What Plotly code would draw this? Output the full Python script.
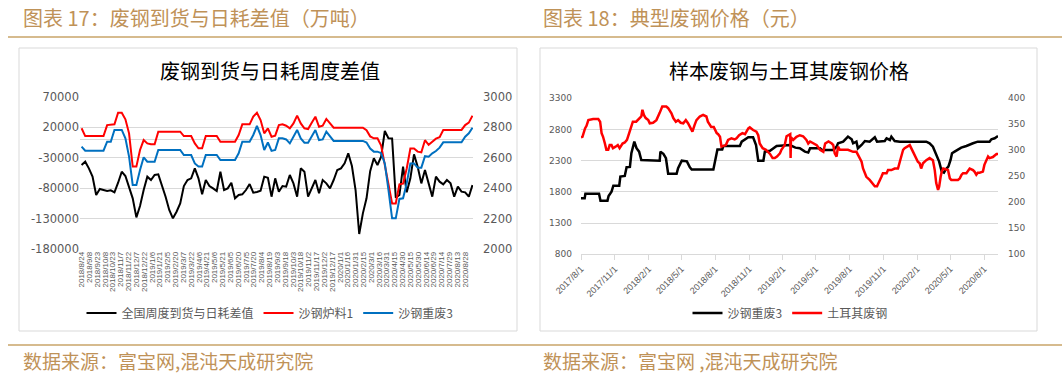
import pandas as pd
import plotly.graph_objects as go

# ---------------- Left chart data (weekly, from 2018/8/24) ----------------
left_start = "2018-08-24"
arrival_minus_use = [
    -41900, -36500, -47400, -61000, -91000, -81200, -82900, -84500, -83400, -86700,
    -70900, -52900, -60000, -80200, -96500, -127700, -109000, -82900, -61000, -66500,
    -58300, -57200, -74700, -93800, -115600, -129300, -118400, -104700, -76300, -66500,
    -63800, -47400, -63800, -90000, -66500, -76300, -80200, -84500, -52900, -82900,
    -80200, -70900, -96500, -91000, -90000, -82900, -73100, -87200, -86100, -84000,
    -61000, -62700, -93800, -63800, -85600, -76300, -77400, -58300, -72000, -93800,
    -47400, -52800, -93800, -80200, -66500, -88300, -66500, -72000, -80200, -66500,
    -50100, -47400, -39200, -22800, -43600, -82900, -155000, -121100, -96500, -52000,
    -31000, -41900, -28300, 13800, 2000, 1700, -95400, -91100, -44700, -86700,
    -63800, -24500, -44700, -72000, -50100, -72000, -93800, -61000, -69200, -73600,
    -66500, -72000, -93800, -77400, -85600, -86700, -93800, -74700,
]
shagang_charge1 = [
    2793, 2742, 2742, 2742, 2742, 2742, 2742, 2814, 2819, 2819,
    2895, 2895, 2852, 2760, 2542, 2542, 2651, 2716, 2694, 2688,
    2688, 2771, 2771, 2771, 2771, 2771, 2771, 2771, 2742, 2742,
    2742, 2694, 2662, 2662, 2742, 2742, 2742, 2742, 2705, 2705,
    2705, 2705, 2705, 2749, 2819, 2819, 2819, 2869, 2895, 2847,
    2760, 2793, 2738, 2745, 2814, 2819, 2810, 2793, 2825, 2876,
    2825, 2793, 2788, 2830, 2869, 2803, 2810, 2854, 2825, 2797,
    2797, 2797, 2797, 2797, 2797, 2797, 2797, 2797, 2780, 2740,
    2727, 2727, 2680, 2560, 2420, 2300, 2300, 2426, 2430, 2530,
    2660, 2660, 2640, 2635, 2715, 2685, 2705, 2725, 2735, 2782,
    2782, 2782, 2782, 2782, 2782, 2814, 2830, 2876,
]
shagang_heavy3 = [
    2673, 2646, 2646, 2646, 2646, 2646, 2646, 2705, 2705, 2782,
    2782, 2782, 2727, 2607, 2422, 2422, 2520, 2603, 2574, 2574,
    2574, 2651, 2651, 2651, 2651, 2651, 2651, 2651, 2618, 2618,
    2618, 2563, 2542, 2542, 2618, 2618, 2618, 2618, 2585, 2585,
    2585, 2585, 2585, 2629, 2705, 2705, 2705, 2749, 2808, 2749,
    2651, 2700, 2645, 2651, 2727, 2727, 2720, 2694, 2742, 2782,
    2727, 2699, 2699, 2740, 2782, 2716, 2720, 2771, 2742, 2710,
    2710, 2710, 2710, 2710, 2710, 2710, 2710, 2710, 2700, 2660,
    2640, 2640, 2630, 2563, 2390, 2203, 2203, 2330, 2334, 2432,
    2563, 2563, 2535, 2535, 2610, 2607, 2629, 2644, 2666, 2701,
    2701, 2701, 2701, 2701, 2701, 2738, 2760, 2797,
]
left_dates = pd.date_range(left_start, periods=len(arrival_minus_use), freq="7D")
left_tick_dates = pd.date_range("2018-08-24", "2020-08-28", freq="15D")
left_tick_text = [f"{d.year}/{d.month}/{d.day}" for d in left_tick_dates]
left_y_ticks = [-180000, -130000, -80000, -30000, 20000, 70000]
left_y2_ticks = [2000, 2200, 2400, 2600, 2800, 3000]

# ---------------- Right chart data ----------------
heavy3_dates = [
    "2017-08-01", "2017-08-11", "2017-08-13", "2017-09-19", "2017-09-23", "2017-10-12",
    "2017-10-15", "2017-10-23", "2017-10-28", "2017-11-13", "2017-11-16", "2017-11-28",
    "2017-12-03", "2017-12-12", "2017-12-16", "2017-12-24", "2017-12-30", "2018-01-06",
    "2018-01-12", "2018-03-03", "2018-03-05", "2018-03-13", "2018-03-20", "2018-03-26",
    "2018-04-18", "2018-04-22", "2018-05-02", "2018-05-16", "2018-05-24", "2018-05-29",
    "2018-07-27", "2018-07-31", "2018-08-07", "2018-08-20", "2018-08-23", "2018-10-07",
    "2018-10-12", "2018-10-30", "2018-11-12", "2018-11-20", "2018-11-26", "2018-12-10",
    "2018-12-14", "2018-12-28", "2019-01-15", "2019-02-20", "2019-03-07", "2019-03-19",
    "2019-04-02", "2019-04-11", "2019-04-16", "2019-05-13", "2019-05-18", "2019-06-18",
    "2019-06-27", "2019-07-01", "2019-07-15", "2019-07-28", "2019-08-07", "2019-08-11",
    "2019-08-20", "2019-08-24", "2019-09-03", "2019-09-12", "2019-09-25", "2019-10-09",
    "2019-10-15", "2019-11-05", "2019-11-10", "2019-11-19", "2019-11-23", "2019-12-02",
    "2019-12-16", "2020-02-26", "2020-03-06", "2020-03-15", "2020-03-24", "2020-04-01",
    "2020-04-08", "2020-04-14", "2020-04-19", "2020-04-26", "2020-05-02", "2020-05-06",
    "2020-05-13", "2020-05-22", "2020-05-31", "2020-06-14", "2020-06-23", "2020-07-02",
    "2020-07-15", "2020-08-16", "2020-08-21", "2020-08-30", "2020-09-08",
]
heavy3_prices = [
    1700, 1700, 1770, 1770, 1660, 1660,
    1735, 1805, 1900, 1900, 2045, 2055,
    2195, 2200, 2420, 2605, 2500, 2445,
    2310, 2300, 2445, 2410, 2340, 2090,
    2090, 2180, 2300, 2290, 2195, 2160,
    2160, 2290, 2480, 2480, 2535, 2535,
    2605, 2675, 2675, 2550, 2300, 2300,
    2445, 2460, 2535, 2550, 2509, 2499,
    2445, 2430, 2499, 2499, 2472, 2472,
    2525, 2579, 2605, 2686, 2643, 2579,
    2605, 2499, 2552, 2616, 2605, 2675,
    2605, 2616, 2659, 2632, 2686, 2616,
    2605, 2605, 2579, 2525, 2392, 2285,
    2125, 2109, 2162, 2205, 2312, 2419,
    2445, 2472, 2509, 2536, 2552, 2579,
    2605, 2605, 2643, 2659, 2696,
]
turkey_dates = [
    "2017-08-01", "2017-08-05", "2017-08-12", "2017-08-16", "2017-08-21", "2017-09-03",
    "2017-09-17", "2017-09-22", "2017-09-26", "2017-09-30", "2017-10-05", "2017-10-09",
    "2017-10-14", "2017-10-18", "2017-10-23", "2017-10-27", "2017-11-03", "2017-11-09",
    "2017-11-14", "2017-11-22", "2017-11-28", "2017-12-04", "2017-12-10", "2017-12-16",
    "2017-12-20", "2017-12-29", "2018-01-06", "2018-01-12", "2018-01-15", "2018-01-19",
    "2018-01-24", "2018-01-31", "2018-02-04", "2018-02-13", "2018-02-22", "2018-02-27",
    "2018-03-03", "2018-03-10", "2018-03-21", "2018-03-26", "2018-04-04", "2018-04-09",
    "2018-04-16", "2018-04-22", "2018-04-29", "2018-05-06", "2018-05-13", "2018-05-19",
    "2018-05-24", "2018-05-31", "2018-06-06", "2018-06-11", "2018-06-20", "2018-06-29",
    "2018-07-08", "2018-07-12", "2018-07-21", "2018-07-28", "2018-08-05", "2018-08-09",
    "2018-08-14", "2018-08-18", "2018-08-30", "2018-09-05", "2018-09-14", "2018-09-23",
    "2018-09-28", "2018-10-05", "2018-10-14", "2018-10-21", "2018-10-25", "2018-10-30",
    "2018-11-03", "2018-11-12", "2018-11-21", "2018-11-26", "2018-11-30", "2018-12-08",
    "2018-12-17", "2018-12-28", "2019-01-04", "2019-01-10", "2019-01-16", "2019-01-24",
    "2019-01-28", "2019-02-06", "2019-02-11", "2019-02-18", "2019-02-21", "2019-02-22",
    "2019-02-23", "2019-03-01", "2019-03-10", "2019-03-19", "2019-03-28", "2019-04-06",
    "2019-04-11", "2019-04-16", "2019-04-25", "2019-05-04", "2019-05-13", "2019-05-22",
    "2019-05-27", "2019-06-05", "2019-06-14", "2019-06-18", "2019-06-22", "2019-06-27",
    "2019-07-01", "2019-07-06", "2019-07-28", "2019-08-11", "2019-08-20", "2019-08-24",
    "2019-09-03", "2019-09-07", "2019-09-16", "2019-09-25", "2019-10-04", "2019-10-09",
    "2019-10-15", "2019-10-22", "2019-10-27", "2019-10-31", "2019-11-10", "2019-11-14",
    "2019-11-23", "2019-12-02", "2019-12-11", "2019-12-16", "2019-12-25", "2019-12-29",
    "2020-01-07", "2020-01-12", "2020-01-21", "2020-01-30", "2020-02-03", "2020-02-08",
    "2020-02-12", "2020-02-17", "2020-02-21", "2020-02-26", "2020-03-06", "2020-03-15",
    "2020-03-20", "2020-03-24", "2020-03-29", "2020-04-01", "2020-04-05", "2020-04-08",
    "2020-04-12", "2020-04-16", "2020-04-25", "2020-04-30", "2020-05-04", "2020-05-22",
    "2020-05-27", "2020-06-01", "2020-06-05", "2020-06-14", "2020-06-23", "2020-07-02",
    "2020-07-06", "2020-07-11", "2020-07-15", "2020-07-20", "2020-07-29", "2020-08-02",
    "2020-08-07", "2020-08-12", "2020-08-16", "2020-08-25", "2020-09-04", "2020-09-08",
]
turkey_prices = [
    325, 326, 342, 347, 358, 360,
    360, 355, 333, 326, 313, 301,
    301, 310, 310, 304, 307, 310,
    304, 313, 315, 320, 333, 345,
    355, 355, 360, 365, 378, 368,
    362, 358, 352, 353, 358, 368,
    372, 384, 384, 381, 371, 362,
    355, 358, 353, 352, 358, 352,
    345, 336, 349, 358, 365, 368,
    365, 355, 345, 345, 333, 331,
    326, 307, 310, 320, 323, 321,
    323, 329, 333, 331, 336, 342,
    344, 339, 336, 329, 313, 304,
    301, 293, 285, 285, 288, 294,
    301, 310, 327, 331, 331, 285,
    325, 320, 326, 329, 327, 320,
    313, 317, 313, 310, 301, 297,
    313, 317, 313, 310, 294, 288,
    307, 301, 301, 297, 297, 291,
    278, 265, 249, 243, 236, 231,
    231, 240, 249, 256, 256, 262,
    262, 265, 265, 278, 301, 304,
    307, 310, 297, 285, 278, 275,
    265, 275, 278, 281, 285, 281,
    262, 237, 224, 230, 249, 259,
    265, 264, 262, 246, 243, 243,
    246, 253, 256, 256, 265, 262,
    259, 253, 257, 257, 259, 272,
    281, 288, 285, 287, 293, 293,
]
right_tick_dates = [
    "2017-08-01", "2017-11-01", "2018-02-01", "2018-05-01", "2018-08-01", "2018-11-01",
    "2019-02-01", "2019-05-01", "2019-08-01", "2019-11-01", "2020-02-01", "2020-05-01",
    "2020-08-01",
]
right_tick_text = [
    "2017/8/1", "2017/11/1", "2018/2/1", "2018/5/1", "2018/8/1", "2018/11/1",
    "2019/2/1", "2019/5/1", "2019/8/1", "2019/11/1", "2020/2/1", "2020/5/1",
    "2020/8/1",
]
right_y_ticks = [800, 1300, 1800, 2300, 2800, 3300]
right_y2_ticks = [100, 150, 200, 250, 300, 350, 400]

# ---------------- Layout helpers ----------------
W, H = 1062, 377


def fx(px):
    return px / W


def fy(py):
    return 1 - py / H


GOLD = "#BF9258"
GOLD_LINE = "#C9A468"
GRID = "#D9D9D9"
TICK = "#595959"
CJK = "Noto Sans CJK SC"

fig = go.Figure()

fig.add_trace(go.Scatter(x=left_dates, y=arrival_minus_use, mode="lines", name="全国周度到货与日耗差值",
                         line=dict(color="#000000", width=2), xaxis="x", yaxis="y", legend="legend"))
fig.add_trace(go.Scatter(x=left_dates, y=shagang_charge1, mode="lines", name="沙钢炉料1",
                         line=dict(color="#FF0000", width=2), xaxis="x", yaxis="y2", legend="legend"))
fig.add_trace(go.Scatter(x=left_dates, y=shagang_heavy3, mode="lines", name="沙钢重废3",
                         line=dict(color="#0070C0", width=2), xaxis="x", yaxis="y2", legend="legend"))

fig.add_trace(go.Scatter(x=pd.to_datetime(heavy3_dates), y=heavy3_prices, mode="lines", name="沙钢重废3",
                         line=dict(color="#000000", width=2.5), xaxis="x2", yaxis="y3", legend="legend2"))
fig.add_trace(go.Scatter(x=pd.to_datetime(turkey_dates), y=turkey_prices, mode="lines", name="土耳其废钢",
                         line=dict(color="#FF0000", width=2.5), xaxis="x2", yaxis="y4", legend="legend2"))

tick_font_l = dict(family="DejaVu Sans", size=11.5, color=TICK)
tick_font_r = dict(family="DejaVu Sans", size=9, color=TICK)

fig.update_layout(
    width=W, height=H, template="none",
    paper_bgcolor="white", plot_bgcolor="rgba(0,0,0,0)",
    margin=dict(l=0, r=0, t=0, b=0),
    xaxis=dict(domain=[fx(80), fx(473)], anchor="y", type="date",
               range=["2018-08-21", "2020-09-12"], tickmode="array",
               tickvals=list(left_tick_dates), ticktext=left_tick_text, tickangle=-90,
               tickfont=dict(family="Liberation Sans", size=8, color=TICK),
               showgrid=False, zeroline=False, showline=False, ticks="", automargin=False),
    yaxis=dict(domain=[fy(249.3), fy(96.7)], anchor="x", range=[-180000, 70000],
               tickmode="array", tickvals=left_y_ticks, ticktext=[str(v) for v in left_y_ticks],
               showgrid=True, gridcolor=GRID, gridwidth=1, zeroline=True, zerolinecolor=GRID,
               zerolinewidth=1, showline=False, ticks="", tickfont=tick_font_l, automargin=False),
    yaxis2=dict(overlaying="y", side="right", anchor="x", range=[2000, 3000],
                tickmode="array", tickvals=left_y2_ticks, ticktext=[str(v) for v in left_y2_ticks],
                showgrid=False, zeroline=False, showline=False, ticks="", tickfont=tick_font_l,
                ticklabelstandoff=9, automargin=False),
    xaxis2=dict(domain=[fx(581), fx(998)], anchor="y3", type="date",
                range=["2017-08-01", "2020-09-08"], tickmode="array",
                tickvals=pd.to_datetime(right_tick_dates), ticktext=right_tick_text, tickangle=-45,
                tickfont=dict(family="Liberation Sans", size=9, color=TICK),
                showgrid=False, zeroline=False, showline=True, linecolor=GRID, linewidth=1,
                ticks="outside", ticklen=5, tickcolor=GRID, automargin=False),
    yaxis3=dict(domain=[fy(254.3), fy(98.3)], anchor="x2", range=[800, 3300],
                tickmode="array", tickvals=right_y_ticks, ticktext=[str(v) for v in right_y_ticks],
                showgrid=True, gridcolor=GRID, gridwidth=1, zeroline=False, showline=False,
                ticks="", tickfont=tick_font_r, ticklabelstandoff=8, automargin=False),
    yaxis4=dict(overlaying="y3", side="right", anchor="x2", range=[100, 400],
                tickmode="array", tickvals=right_y2_ticks, ticktext=[str(v) for v in right_y2_ticks],
                showgrid=False, zeroline=False, showline=False, ticks="", tickfont=tick_font_r,
                ticklabelstandoff=9, automargin=False),
    legend=dict(x=fx(270), y=fy(313), xanchor="center", yanchor="middle", orientation="h",
                font=dict(family=CJK, size=12, color=TICK), bgcolor="rgba(0,0,0,0)",
                itemwidth=30, tracegroupgap=0),
    legend2=dict(x=fx(790), y=fy(313), xanchor="center", yanchor="middle", orientation="h",
                 font=dict(family=CJK, size=12, color=TICK), bgcolor="rgba(0,0,0,0)",
                 itemwidth=30, tracegroupgap=0),
    showlegend=True,
)

annotations = [
    dict(text="图表 17：废钢到货与日耗差值（万吨）", x=fx(21), y=fy(17), xanchor="left",
         yanchor="middle", font=dict(family=CJK, size=20, color=GOLD)),
    dict(text="图表 18：典型废钢价格（元）", x=fx(541), y=fy(17), xanchor="left",
         yanchor="middle", font=dict(family=CJK, size=20, color=GOLD)),
    dict(text="废钢到货与日耗周度差值", x=fx(270), y=fy(70), xanchor="center",
         yanchor="middle", font=dict(family=CJK, size=20, color="#000000")),
    dict(text="样本废钢与土耳其废钢价格", x=fx(789), y=fy(70), xanchor="center",
         yanchor="middle", font=dict(family=CJK, size=20, color="#000000")),
    dict(text="数据来源：富宝网,混沌天成研究院", x=fx(21), y=fy(360), xanchor="left",
         yanchor="middle", font=dict(family=CJK, size=19, color=GOLD)),
    dict(text="数据来源：富宝网 ,混沌天成研究院", x=fx(541), y=fy(360), xanchor="left",
         yanchor="middle", font=dict(family=CJK, size=19, color=GOLD)),
]
for a in annotations:
    a.update(xref="paper", yref="paper", showarrow=False)
fig.update_layout(annotations=annotations)

shapes = [
    dict(type="line", x0=fx(8), x1=fx(1062), y0=fy(37), y1=fy(37), line=dict(color=GOLD_LINE, width=1.5)),
    dict(type="line", x0=fx(8), x1=fx(1062), y0=fy(345), y1=fy(345), line=dict(color=GOLD_LINE, width=1.5)),
    dict(type="rect", x0=fx(19), x1=fx(517), y0=fy(331), y1=fy(48), line=dict(color=GRID, width=1)),
    dict(type="rect", x0=fx(540), x1=fx(1037), y0=fy(331), y1=fy(48), line=dict(color=GRID, width=1)),
]
for s in shapes:
    s.update(xref="paper", yref="paper", layer="below")
fig.update_layout(shapes=shapes)

fig.write_html("out.html", config={"displayModeBar": False},
               post_script="document.body.style.margin='0';document.body.style.overflow='hidden';")
